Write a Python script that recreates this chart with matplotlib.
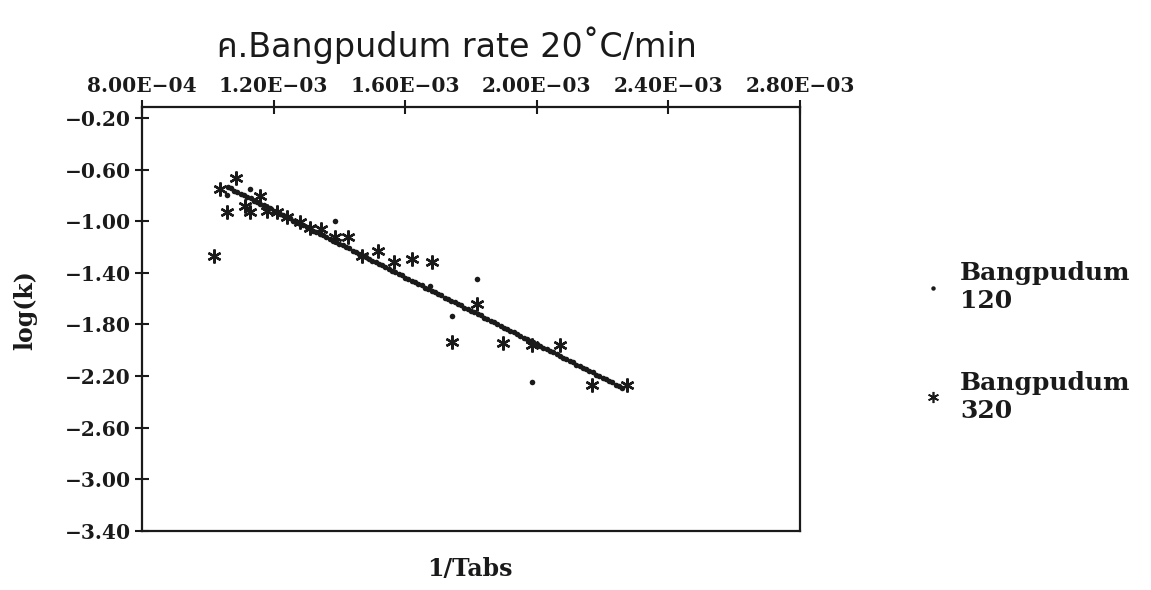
import matplotlib
matplotlib.use('Agg')
import matplotlib.pyplot as plt
from matplotlib.lines import Line2D

# Bangpudum 120 : 1/Tabs (x 1e-3) and log(k)
x120 = [1.06, 1.07, 1.08, 1.09, 1.10, 1.11, 1.12, 1.13, 1.14, 1.15,
        1.16, 1.17, 1.18, 1.19, 1.20, 1.21, 1.22, 1.23, 1.24, 1.25,
        1.26, 1.27, 1.28, 1.29, 1.30, 1.31, 1.32, 1.33, 1.34, 1.35,
        1.36, 1.37, 1.38, 1.39, 1.40, 1.41, 1.42, 1.43, 1.44, 1.45,
        1.46, 1.47, 1.48, 1.49, 1.50, 1.51, 1.52, 1.53, 1.54, 1.55,
        1.56, 1.57, 1.58, 1.59, 1.60, 1.61, 1.62, 1.63, 1.64, 1.65,
        1.66, 1.67, 1.68, 1.69, 1.70, 1.71, 1.72, 1.73, 1.74, 1.75,
        1.76, 1.77, 1.78, 1.79, 1.80, 1.81, 1.82, 1.83, 1.84, 1.85,
        1.86, 1.87, 1.88, 1.89, 1.90, 1.91, 1.92, 1.93, 1.94, 1.95,
        1.96, 1.97, 1.98, 1.99, 2.00, 2.01, 2.02, 2.03, 2.04, 2.05,
        2.06, 2.07, 2.08, 2.09, 2.10, 2.11, 2.12, 2.13, 2.14, 2.15,
        2.16, 2.17, 2.18, 2.19, 2.20, 2.21, 2.22, 2.23, 2.24, 2.25, 2.26,
        # scattered points
        1.058, 1.128, 1.387, 1.675, 1.818, 1.742, 1.985]
y120 = [-0.734, -0.745, -0.762, -0.771, -0.788, -0.797, -0.814, -0.823, -0.840, -0.849,
        -0.866, -0.875, -0.892, -0.900, -0.917, -0.926, -0.943, -0.952, -0.969, -0.978,
        -0.995, -1.004, -1.021, -1.030, -1.047, -1.056, -1.073, -1.082, -1.099, -1.108,
        -1.125, -1.134, -1.151, -1.160, -1.177, -1.186, -1.202, -1.211, -1.228, -1.237,
        -1.254, -1.263, -1.280, -1.289, -1.306, -1.315, -1.332, -1.341, -1.358, -1.367,
        -1.384, -1.393, -1.410, -1.419, -1.436, -1.445, -1.462, -1.471, -1.488, -1.497,
        -1.514, -1.522, -1.540, -1.548, -1.566, -1.574, -1.592, -1.600, -1.618, -1.626,
        -1.643, -1.652, -1.669, -1.678, -1.695, -1.704, -1.721, -1.730, -1.747, -1.756,
        -1.773, -1.782, -1.799, -1.808, -1.825, -1.834, -1.851, -1.860, -1.877, -1.886,
        -1.902, -1.911, -1.928, -1.937, -1.954, -1.963, -1.980, -1.989, -2.006, -2.015,
        -2.032, -2.041, -2.058, -2.067, -2.084, -2.093, -2.110, -2.119, -2.136, -2.145,
        -2.162, -2.171, -2.188, -2.197, -2.214, -2.223, -2.240, -2.249, -2.266, -2.275, -2.290,
        -0.800, -0.751, -1.000, -1.505, -1.450, -1.738, -2.243]

# Bangpudum 320
x320 = [1.019, 1.037, 1.086, 1.058, 1.113, 1.128, 1.159, 1.180, 1.210, 1.241,
        1.280, 1.311, 1.344, 1.387, 1.426, 1.469, 1.517, 1.566, 1.621, 1.681,
        1.818, 1.742, 1.897, 1.985, 2.071, 2.168, 2.274]
y320 = [-1.272, -0.751, -0.666, -0.930, -0.883, -0.930, -0.806, -0.922, -0.930, -0.969,
        -1.008, -1.054, -1.062, -1.124, -1.124, -1.272, -1.233, -1.318, -1.295, -1.318,
        -1.645, -1.932, -1.940, -1.955, -1.955, -2.266, -2.266]

xticks = [0.8, 1.2, 1.6, 2.0, 2.4, 2.8]
xtick_labels = ['8.00E\u221204', '1.20E\u221203', '1.60E\u221203',
                '2.00E\u221203', '2.40E\u221203', '2.80E\u221203']
yticks = [-0.2, -0.6, -1.0, -1.4, -1.8, -2.2, -2.6, -3.0, -3.4]
ytick_labels = ['\u22120.20', '\u22120.60', '\u22121.00', '\u22121.40', '\u22121.80',
                '\u22122.20', '\u22122.60', '\u22123.00', '\u22123.40']

ink = '#1a1a1a'
serif = 'DejaVu Serif'

fig = plt.figure(figsize=(11.51, 5.90), dpi=100)
ax = fig.add_axes([0.1234, 0.1, 0.5716, 0.7186])

ax.plot(x120, y120, 'o', color=ink, markersize=4, markeredgewidth=0, linestyle='none')
ax.plot(x320, y320, marker=(6, 2, 0), color=ink, markersize=10, markeredgewidth=1.7,
        linestyle='none')

ax.set_xlim(0.8, 2.8)
ax.set_ylim(-3.4, -0.115)

ax.xaxis.tick_top()
ax.set_xticks(xticks)
ax.set_xticklabels(xtick_labels, fontsize=14.5, fontweight='bold', family=serif)
ax.set_yticks(yticks)
ax.set_yticklabels(ytick_labels, fontsize=14.5, fontweight='bold', family=serif)
ax.tick_params(axis='both', direction='inout', length=10, width=1.5, color=ink,
               labelcolor=ink, pad=3)
for s in ax.spines.values():
    s.set_linewidth(1.6)
    s.set_color(ink)

ax.set_ylabel('log(k)', fontsize=17, fontweight='bold', family=serif, color=ink)
ax.yaxis.set_label_coords(-0.16, 0.52)
fig.text(0.408, 0.036, '1/Tabs', fontsize=17, fontweight='bold', family=serif,
         color=ink, ha='center', va='center')

fig.text(0.397, 0.924, '\u0e04.Bangpudum rate 20\u02daC/min', fontsize=24,
         family=['DejaVu Sans', 'Noto Sans Thai', 'Noto Sans', 'FreeSans'],
         color=ink, ha='center', va='center')

handles = [Line2D([], [], marker='o', color=ink, markersize=3.2, markeredgewidth=0,
                  linestyle='none'),
           Line2D([], [], marker=(6, 2, 0), color=ink, markersize=8, markeredgewidth=1.2,
                  linestyle='none')]
fig.legend(handles, ['Bangpudum\n120', 'Bangpudum\n320'], loc='upper left',
           bbox_to_anchor=(0.78, 0.595), frameon=False, handlelength=1.0,
           handletextpad=0.6, labelspacing=2.3,
           prop={'family': serif, 'weight': 'bold', 'size': 18, 'stretch': 'normal'},
           labelcolor=ink)

plt.savefig('out.png', dpi=100)
